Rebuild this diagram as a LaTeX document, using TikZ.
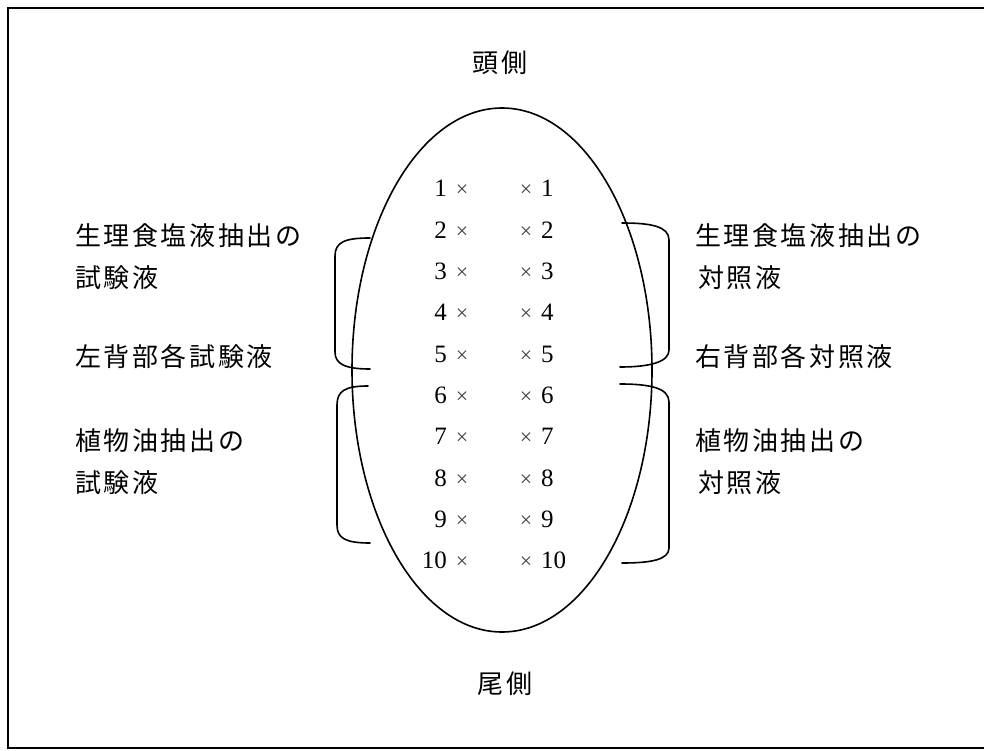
\documentclass[tikz,border=0pt]{standalone}
\usepackage{fontspec}
\setmainfont{Liberation Serif}
\newfontfamily\jp{Noto Sans CJK JP}[LetterSpace=10]
\usetikzlibrary{shapes.geometric}
\begin{document}
\begin{tikzpicture}[x=1pt,y=-1pt,
  line/.style={line width=1.6pt,line join=round,line cap=round},
  jplabel/.style={inner sep=0pt,font=\jp\fontsize{26}{30}\selectfont},
  num/.style={inner sep=0pt,font=\fontsize{25}{28}\selectfont},
  xmark/.style={inner sep=0pt,text=black!75,font=\fontsize{22}{26}\selectfont}]
\useasboundingbox (0,0) rectangle (984,751);
\draw[line width=2pt] (8,8) rectangle (995,748);
% egg
\node[ellipse,draw,line width=1.6pt,minimum width=300pt,minimum height=524pt,inner sep=0pt] (egg) at (502,370) {};
% head / tail
\node[jplabel,anchor=base] (head) at (500,73) {頭側};
\node[jplabel,anchor=base] (tail) at (505,693) {尾側};
% rows
\foreach \i in {1,...,10}{
  \pgfmathsetmacro{\b}{197+(\i-1)*41.3}
  \node[num,anchor=base east] (l\i) at (447,\b) {\i};
  \node[xmark,anchor=base] (lx\i) at (462,\b) {×};
  \node[xmark,anchor=base] (rx\i) at (526,\b) {×};
  \node[num,anchor=base west] (r\i) at (541,\b) {\i};
}
% left labels
\node[jplabel,anchor=base west] (la1) at (75,245) {生理食塩液抽出の};
\node[jplabel,anchor=base west] (la2) at (75,287) {試験液};
\node[jplabel,anchor=base west] (lb) at (75,366) {左背部各試験液};
\node[jplabel,anchor=base west] (lc1) at (75,450) {植物油抽出の};
\node[jplabel,anchor=base west] (lc2) at (75,492) {試験液};
% right labels
\node[jplabel,anchor=base west] (ra1) at (695,245) {生理食塩液抽出の};
\node[jplabel,anchor=base west] (ra2) at (698,287) {対照液};
\node[jplabel,anchor=base west] (rb) at (695,366) {右背部各対照液};
\node[jplabel,anchor=base west] (rc1) at (695,450) {植物油抽出の};
\node[jplabel,anchor=base west] (rc2) at (698,492) {対照液};
% brackets
\draw[line] (370,238) .. controls (345,238) and (335,242) .. (335,256) -- (335,352) .. controls (335,364) and (345,369) .. (370,369);
\draw[line] (368,386) .. controls (345,386) and (337,391) .. (337,405) -- (337,525) .. controls (337,538) and (345,543) .. (370,543);
\draw[line] (622,223) .. controls (650,223) and (669,226) .. (669,240) -- (669,350) .. controls (669,362) and (650,367) .. (620,367);
\draw[line] (620,384) .. controls (650,384) and (669,388) .. (669,402) -- (669,548) .. controls (669,560) and (650,563) .. (622,563);
\end{tikzpicture}
\end{document}
